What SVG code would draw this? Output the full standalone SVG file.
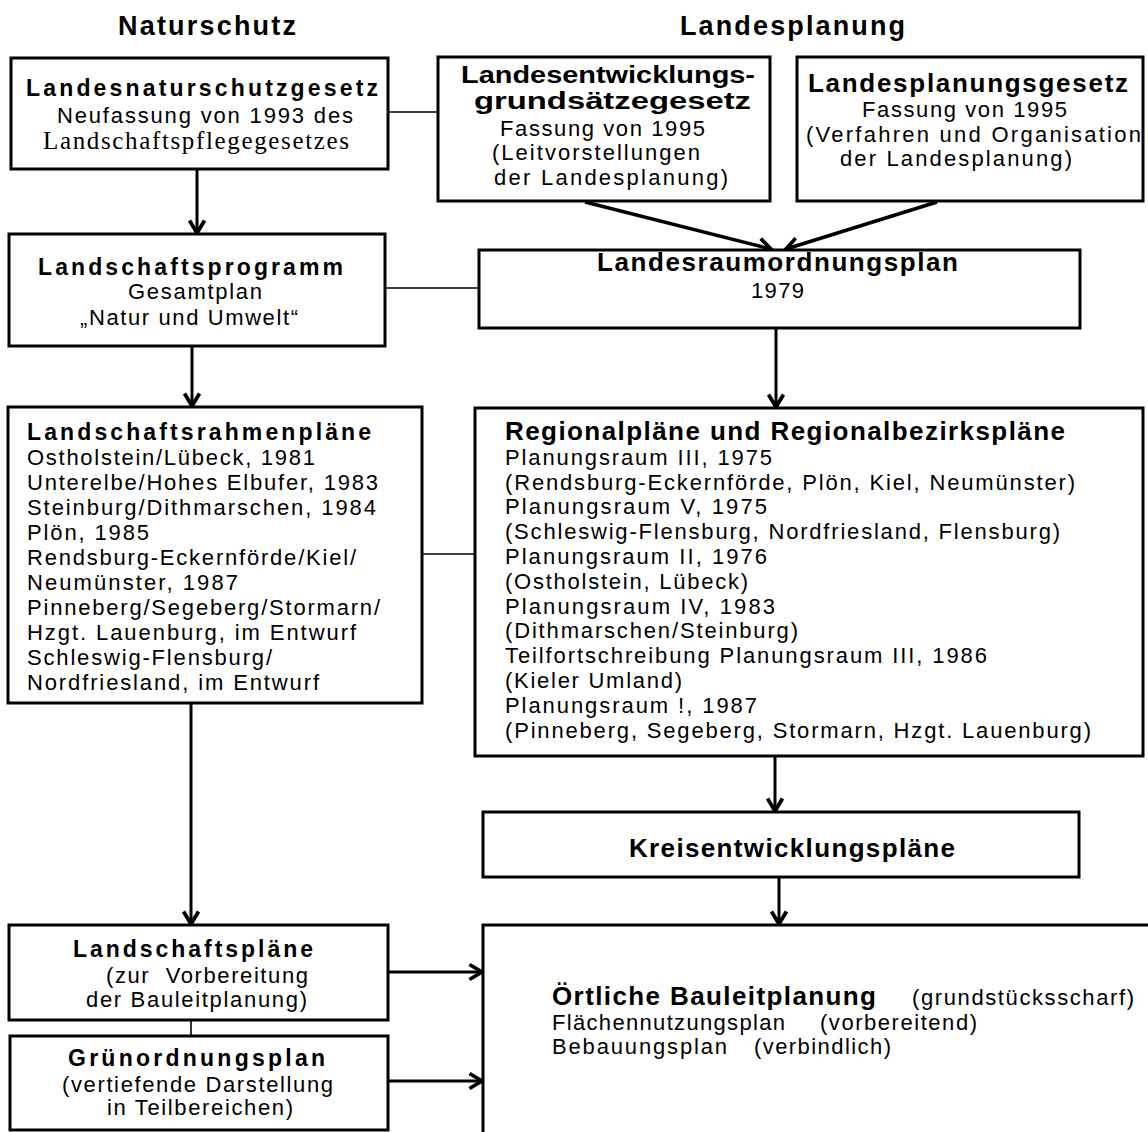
<svg xmlns="http://www.w3.org/2000/svg" width="1148" height="1132" viewBox="0 0 1148 1132">
<style>
.box{fill:#fff;stroke:#000;stroke-width:3}
.t{font-family:"Liberation Sans",Arial,sans-serif;font-size:22px;fill:#000}
.b{font-family:"Liberation Sans",Arial,sans-serif;font-weight:bold;font-size:23px;fill:#000}
.bc{font-family:"Liberation Sans",Arial,sans-serif;font-weight:bold;font-size:26px;fill:#000}
.h{font-family:"Liberation Sans",Arial,sans-serif;font-weight:bold;font-size:27px;fill:#000}
.s{font-family:"Liberation Serif","Times New Roman",serif;font-size:25px;fill:#000}
.arr{fill:none;stroke:#000;stroke-width:3;marker-end:url(#ah)}
.arrd{fill:none;stroke:#000;stroke-width:3.5;marker-end:url(#ah)}
.ln{fill:none;stroke:#000;stroke-width:1.6}
</style>
<defs>
<marker id="ah" markerUnits="userSpaceOnUse" markerWidth="20" markerHeight="20" viewBox="-12 -8 14 16" refX="0" refY="0" orient="auto">
<path d="M-10,-6 L0,0 L-10,6" fill="none" stroke="#000" stroke-width="3"/>
</marker>
</defs>
<rect width="1148" height="1132" fill="#fff"/>

<g id="headings">
<text class="h" x="118" y="35" textLength="178">Naturschutz</text>
<text class="h" x="680" y="35" textLength="225">Landesplanung</text>
</g>

<g id="connectors">
<line class="ln" x1="388" y1="112" x2="438" y2="112"/>
<line class="ln" x1="385" y1="288" x2="479" y2="288"/>
<line class="ln" x1="422" y1="554" x2="475" y2="554"/>
<line class="ln" x1="191" y1="1020" x2="191" y2="1036"/>
<line class="arr" x1="197" y1="169" x2="197" y2="233"/>
<line class="arr" x1="192" y1="346" x2="192" y2="406"/>
<line class="arr" x1="191" y1="703" x2="191" y2="924"/>
<line class="arrd" x1="585" y1="202" x2="771" y2="249"/>
<line class="arrd" x1="937" y1="202" x2="786" y2="249"/>
<line class="arr" x1="776" y1="328" x2="776" y2="407"/>
<line class="arr" x1="775" y1="756" x2="775" y2="811"/>
<line class="arr" x1="779" y1="877" x2="779" y2="924"/>
<line class="arr" x1="388" y1="972" x2="482" y2="972"/>
<line class="arr" x1="388" y1="1081" x2="482" y2="1081"/>
</g>

<g id="landesnaturschutzgesetz">
<rect class="box" x="11" y="58" width="377" height="111"/>
<text class="b" x="26" y="96" textLength="352">Landesnaturschutzgesetz</text>
<text class="t" x="57" y="123" textLength="296">Neufassung von 1993 des</text>
<text class="s" x="43" y="149" textLength="306">Landschaftspflegegesetzes</text>
</g>

<g id="landesentwicklungsgrundsaetzegesetz">
<rect class="box" x="438" y="57" width="332" height="144"/>
<text class="bc" style="font-size:23px" x="461" y="83" textLength="294" lengthAdjust="spacingAndGlyphs">Landesentwicklungs-</text>
<text class="bc" style="font-size:23px" x="474" y="109" textLength="277" lengthAdjust="spacingAndGlyphs">grundsätzegesetz</text>
<text class="t" x="500" y="136" textLength="205">Fassung von 1995</text>
<text class="t" x="492" y="160" textLength="208">(Leitvorstellungen</text>
<text class="t" x="494" y="185" textLength="234">der Landesplanung)</text>
</g>

<g id="landesplanungsgesetz">
<rect class="box" x="797" y="57" width="346" height="144"/>
<text class="bc" x="808" y="92" textLength="320">Landesplanungsgesetz</text>
<text class="t" x="862" y="117" textLength="205">Fassung von 1995</text>
<text class="t" x="806" y="142" textLength="335">(Verfahren und Organisation</text>
<text class="t" x="840" y="166" textLength="232">der Landesplanung)</text>
</g>

<g id="landschaftsprogramm">
<rect class="box" x="9" y="234" width="376" height="112"/>
<text class="b" x="38" y="275" textLength="305">Landschaftsprogramm</text>
<text class="t" x="128" y="299" textLength="134">Gesamtplan</text>
<text class="t" x="80" y="325" textLength="218">„Natur und Umwelt“</text>
</g>

<g id="landesraumordnungsplan">
<rect class="box" x="479" y="250" width="601" height="78"/>
<text class="bc" x="597" y="271" textLength="361">Landesraumordnungsplan</text>
<text class="t" x="751" y="298" textLength="53">1979</text>
</g>

<g id="landschaftsrahmenplaene">
<rect class="box" x="8" y="407" width="414" height="296"/>
<text class="b" x="27" y="440" textLength="344">Landschaftsrahmenpläne</text>
<text class="t" x="27" y="465" textLength="288">Ostholstein/Lübeck, 1981</text>
<text class="t" x="27" y="490" textLength="351">Unterelbe/Hohes Elbufer, 1983</text>
<text class="t" x="27" y="515" textLength="349">Steinburg/Dithmarschen, 1984</text>
<text class="t" x="27" y="540" textLength="122">Plön, 1985</text>
<text class="t" x="27" y="565" textLength="329">Rendsburg-Eckernförde/Kiel/</text>
<text class="t" x="27" y="590" textLength="211">Neumünster, 1987</text>
<text class="t" x="27" y="615" textLength="353">Pinneberg/Segeberg/Stormarn/</text>
<text class="t" x="27" y="640" textLength="329">Hzgt. Lauenburg, im Entwurf</text>
<text class="t" x="27" y="665" textLength="245">Schleswig-Flensburg/</text>
<text class="t" x="27" y="690" textLength="292">Nordfriesland, im Entwurf</text>
</g>

<g id="regionalplaene">
<rect class="box" x="475" y="408" width="668" height="348"/>
<text class="bc" x="505" y="440" textLength="560">Regionalpläne und Regionalbezirkspläne</text>
<text class="t" x="505" y="465" textLength="267">Planungsraum III, 1975</text>
<text class="t" x="505" y="490" textLength="570">(Rendsburg-Eckernförde, Plön, Kiel, Neumünster)</text>
<text class="t" x="505" y="514" textLength="262">Planungsraum V, 1975</text>
<text class="t" x="505" y="539" textLength="555">(Schleswig-Flensburg, Nordfriesland, Flensburg)</text>
<text class="t" x="505" y="564" textLength="262">Planungsraum II, 1976</text>
<text class="t" x="505" y="589" textLength="243">(Ostholstein, Lübeck)</text>
<text class="t" x="505" y="614" textLength="270">Planungsraum IV, 1983</text>
<text class="t" x="505" y="638" textLength="293">(Dithmarschen/Steinburg)</text>
<text class="t" x="505" y="663" textLength="482">Teilfortschreibung Planungsraum III, 1986</text>
<text class="t" x="505" y="688" textLength="177">(Kieler Umland)</text>
<text class="t" x="505" y="713" textLength="252">Planungsraum !, 1987</text>
<text class="t" x="505" y="738" textLength="586">(Pinneberg, Segeberg, Stormarn, Hzgt. Lauenburg)</text>
</g>

<g id="kreisentwicklungsplaene">
<rect class="box" x="483" y="812" width="596" height="65"/>
<text class="bc" x="629" y="857" textLength="326">Kreisentwicklungspläne</text>
</g>

<g id="landschaftsplaene">
<rect class="box" x="9" y="925" width="379" height="95"/>
<text class="b" x="73" y="957" textLength="240">Landschaftspläne</text>
<text class="t" x="106" y="983" textLength="202" style="white-space:pre">(zur  Vorbereitung</text>
<text class="t" x="86" y="1007" textLength="221">der Bauleitplanung)</text>
</g>

<g id="gruenordnungsplan">
<rect class="box" x="10" y="1036" width="378" height="94"/>
<text class="b" x="68" y="1066" textLength="257">Grünordnungsplan</text>
<text class="t" x="62" y="1092" textLength="271">(vertiefende Darstellung</text>
<text class="t" x="107" y="1115" textLength="186">in Teilbereichen)</text>
</g>

<g id="oertliche-bauleitplanung">
<rect class="box" x="483" y="925" width="670" height="220"/>
<text class="bc" x="552" y="1005" textLength="324">Örtliche Bauleitplanung</text>
<text class="t" x="912" y="1005" textLength="222">(grundstücksscharf)</text>
<text class="t" x="552" y="1030" textLength="233">Flächennutzungsplan</text>
<text class="t" x="820" y="1030" textLength="157">(vorbereitend)</text>
<text class="t" x="552" y="1054" textLength="175">Bebauungsplan</text>
<text class="t" x="754" y="1054" textLength="137">(verbindlich)</text>
</g>
</svg>
